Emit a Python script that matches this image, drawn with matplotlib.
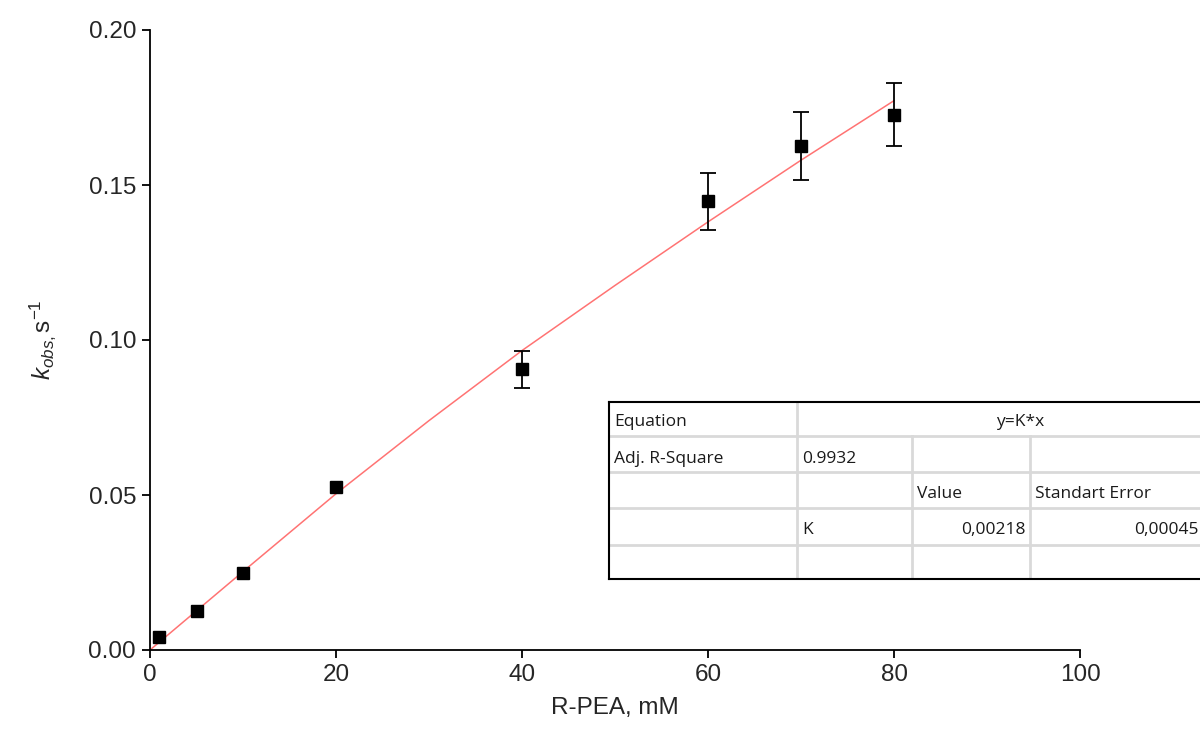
import numpy as np
import matplotlib
matplotlib.use('Agg')
import matplotlib.pyplot as plt

# ==========================================
# data
# ==========================================
conc_mM = [1, 5, 10, 20, 40, 60, 70, 80]
k_obs = [0.0041, 0.0127, 0.0247, 0.0527, 0.0906, 0.1447, 0.1627, 0.1727]
k_err = [0, 0, 0, 0, 0.0060, 0.0092, 0.0110, 0.0102]

# fitted curve
fit_x = [0, 10, 20, 30, 40, 50, 60, 70, 80]
fit_y = [0.0, 0.0253, 0.0504, 0.0740, 0.0966, 0.1176, 0.1381, 0.1580, 0.1772]

x_ticks = [0, 20, 40, 60, 80, 100]
y_ticks = [0.00, 0.05, 0.10, 0.15, 0.20]

# fit report table
tbl_equation = 'y=K*x'
tbl_adj_r2 = '0.9932'
tbl_param = 'K'
tbl_value = '0,00218'
tbl_stderr = '0,00045'

plt.rcParams['font.family'] = ['Liberation Sans', 'DejaVu Sans']
plt.rcParams['mathtext.fontset'] = 'custom'
plt.rcParams['mathtext.rm'] = 'Liberation Sans'
plt.rcParams['mathtext.it'] = 'Liberation Sans:italic'

W, H = 1200, 731
fig = plt.figure(figsize=(W / 100, H / 100), dpi=100)

# main axes: 150..1080 px in x, 30..650 px in y
ax = fig.add_axes([150 / W, (H - 650) / H, 930 / W, 620 / H])
ax.plot(fit_x, fit_y, color='#ff7373', lw=1.1, zorder=2)

x = np.array(conc_mM)
y = np.array(k_obs)
e = np.array(k_err)
has_err = e > 0
ax.errorbar(x[has_err], y[has_err], yerr=e[has_err], fmt='none', ecolor='black',
            elinewidth=1.3, capsize=6, capthick=1.3, zorder=3)
ax.plot(x, y, 's', color='black', ms=8.5, zorder=4)

ax.set_xlim(0, 100)
ax.set_ylim(0, 0.20)
ax.set_xticks(x_ticks)
ax.set_yticks(y_ticks)
ax.set_yticklabels([f'{v:.2f}' for v in y_ticks])
for side in ['top', 'right']:
    ax.spines[side].set_visible(False)
for side in ['left', 'bottom']:
    ax.spines[side].set_linewidth(1.3)
ax.tick_params(direction='out', length=6, width=1.3, labelsize=17.5,
               labelcolor='#262626', pad=4)
ax.set_xlabel('R-PEA, mM', fontsize=17.5, color='#262626', labelpad=8)
ax.set_ylabel(r'$k_{obs,}$s$^{-1}$', fontsize=17.5, color='#262626', labelpad=22)

# ==========================================
# fit report table (pixel coordinates)
# ==========================================
t_left, t_top, t_bot = 609, 402, 579
tax = fig.add_axes([t_left / W, (H - t_bot) / H, (1250 - t_left) / W, (t_bot - t_top) / H])
tax.set_xlim(t_left, 1250)
tax.set_ylim(t_bot, t_top)
tax.axis('off')

grid_c = '#d9d9d9'
rows = [436, 472, 508, 545]
for ry in rows:
    tax.plot([t_left, 1250], [ry, ry], color=grid_c, lw=2)
tax.plot([797, 797], [t_top, t_bot], color=grid_c, lw=2)
for cx in [912, 1030]:
    tax.plot([cx, cx], [436, t_bot], color=grid_c, lw=2)
tax.plot([t_left, 1250], [t_top, t_top], color='black', lw=1.5, clip_on=False)
tax.plot([t_left, 1250], [t_bot, t_bot], color='black', lw=1.5, clip_on=False)
tax.plot([t_left, t_left], [t_top, t_bot], color='black', lw=1.5, clip_on=False)

tfont = dict(family=['Open Sans', 'DejaVu Sans'], fontsize=12.5, color='#1a1a1a', va='center')
tax.text(614, 422, 'Equation', **tfont)
tax.text(1020, 422, tbl_equation, ha='center', **tfont)
tax.text(614, 459, 'Adj. R-Square', **tfont)
tax.text(802, 459, tbl_adj_r2, **tfont)
tax.text(917, 494, 'Value', **tfont)
tax.text(1035, 494, 'Standart Error', **tfont)
tax.text(802, 530, tbl_param, **tfont)
tax.text(1026, 530, tbl_value, ha='right', **tfont)
tax.text(1199, 530, tbl_stderr, ha='right', **tfont)

fig.savefig('out.png', dpi=100, facecolor='white')
